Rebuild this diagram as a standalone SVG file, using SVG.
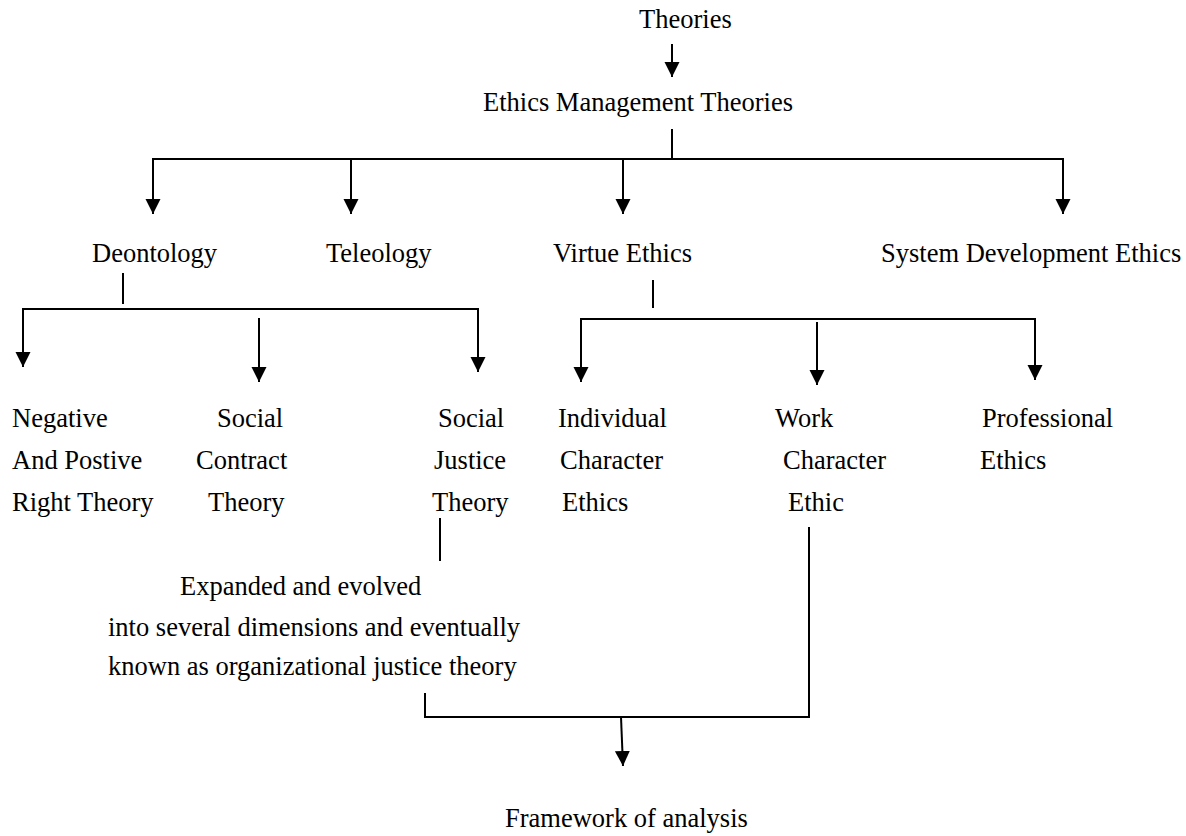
<svg xmlns="http://www.w3.org/2000/svg" width="1186" height="836" viewBox="0 0 1186 836">
<style>
text{font-family:"Liberation Serif","Times New Roman",serif;font-size:26.5px;fill:#000}
.c{fill:none;stroke:#000;stroke-width:2}
.a{marker-end:url(#ah)}
</style>
<defs>
<marker id="ah" markerUnits="userSpaceOnUse" markerWidth="16" markerHeight="16" viewBox="0 -8 16 16" refX="15" refY="0" orient="auto">
<path d="M0,-7.5 L15,0 L0,7.5 z" fill="#000"/>
</marker>
</defs>
<rect width="1186" height="836" fill="#fff"/>
<g id="connectors">
<line class="c a" x1="672" y1="44" x2="672" y2="77"/>
<line class="c" x1="672" y1="129" x2="672" y2="159"/>
<polyline class="c" points="153,170 153,159 1063,159 1063,170"/>
<line class="c a" x1="153" y1="159" x2="153" y2="214"/>
<line class="c a" x1="351" y1="159" x2="351" y2="214"/>
<line class="c a" x1="623" y1="159" x2="623" y2="214"/>
<line class="c a" x1="1063" y1="159" x2="1063" y2="214"/>
<line class="c" x1="123" y1="273" x2="123" y2="304"/>
<polyline class="c" points="23,320 23,309 478,309 478,320"/>
<line class="c a" x1="23" y1="309" x2="23" y2="367"/>
<line class="c a" x1="259" y1="318" x2="259" y2="382"/>
<line class="c a" x1="478" y1="309" x2="478" y2="372"/>
<line class="c" x1="653" y1="280" x2="653" y2="308"/>
<polyline class="c" points="581,330 581,319 1035,319 1035,330"/>
<line class="c a" x1="581" y1="319" x2="581" y2="382"/>
<line class="c a" x1="817" y1="322" x2="817" y2="385"/>
<line class="c a" x1="1035" y1="319" x2="1035" y2="380"/>
<line class="c" x1="440" y1="518" x2="440" y2="561"/>
<polyline class="c" points="425,693 425,717 809,717 809,527"/>
<line class="c a" x1="621" y1="717" x2="623" y2="766"/>
</g>
<g id="n-theories"><text x="639" y="28">Theories</text></g>
<g id="n-ethics-mgmt"><text x="483" y="111">Ethics Management Theories</text></g>
<g id="n-deontology"><text x="92" y="262">Deontology</text></g>
<g id="n-teleology"><text x="326" y="262">Teleology</text></g>
<g id="n-virtue"><text x="553" y="262">Virtue Ethics</text></g>
<g id="n-system"><text x="881" y="262">System Development Ethics</text></g>
<g id="n-negative"><text x="12" y="427">Negative</text><text x="12" y="469">And Postive</text><text x="12" y="511">Right Theory</text></g>
<g id="n-social-contract"><text x="217" y="427">Social</text><text x="196" y="469">Contract</text><text x="208" y="511">Theory</text></g>
<g id="n-social-justice"><text x="438" y="427">Social</text><text x="434" y="469">Justice</text><text x="432" y="511">Theory</text></g>
<g id="n-individual"><text x="558" y="427">Individual</text><text x="560" y="469">Character</text><text x="562" y="511">Ethics</text></g>
<g id="n-work"><text x="775" y="427">Work</text><text x="783" y="469">Character</text><text x="788" y="511">Ethic</text></g>
<g id="n-professional"><text x="982" y="427">Professional</text><text x="980" y="469">Ethics</text></g>
<g id="n-expanded"><text x="180" y="595">Expanded and evolved</text><text x="108" y="636">into several dimensions and eventually</text><text x="108" y="675">known as organizational justice theory</text></g>
<g id="n-framework"><text x="505" y="827">Framework of analysis</text></g>
</svg>
